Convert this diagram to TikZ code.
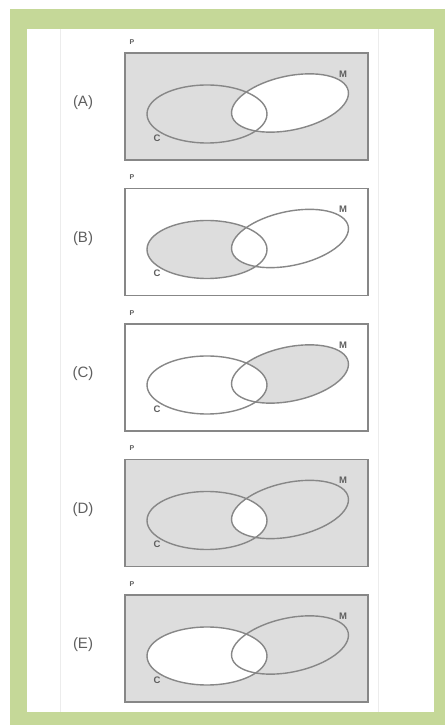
\documentclass[tikz,border=0pt]{standalone}
\usepackage{fontspec}
\setmainfont{Liberation Sans}
\definecolor{framegreen}{RGB}{197,216,152}
\definecolor{boxgray}{RGB}{221,221,221}
\definecolor{linegray}{RGB}{135,135,135}
\definecolor{textgray}{RGB}{95,95,95}
\tikzset{
  outline/.style={draw=linegray,line width=1.4pt},
  lbl/.style={text=textgray,inner sep=0pt,font=\fontsize{15}{15}\selectfont},
  small/.style={text=textgray,inner sep=0pt,font=\fontsize{9.5}{9.5}\selectfont\bfseries},
  tiny/.style={text=textgray,inner sep=0pt,font=\fontsize{7}{7}\selectfont\bfseries}
}
\newcommand{\CellC}{(82,-61) ellipse [x radius=60pt, y radius=29pt]}
\newcommand{\CellM}{[rotate around={12:(165,-50)}] (165,-50) ellipse [x radius=59.5pt, y radius=27pt]}
\newcommand{\BoxP}{(0,0) rectangle (243,-107)}
% #1 = top y, #2 = label, #3 = fill code, #4 = name suffix
\newcommand{\vpanel}[4]{%
  \begin{scope}[shift={(125,#1)}]
    #3
    \draw[outline] \BoxP;
    \draw[outline] \CellC;
    \draw[outline] \CellM;
    \node[tiny] (P#4) at (7,11) {P};
    \node[small] (M#4) at (218,-21) {M};
    \node[small] (C#4) at (32,-85) {C};
    \node[lbl] (L#4) at (-42,-50) {#2};
  \end{scope}}
\begin{document}
\begin{tikzpicture}[x=1pt,y=1pt]
\useasboundingbox (0,0) rectangle (446,726);
\fill[white] (0,0) rectangle (446,726);
\fill[framegreen] (10,1) rectangle (445,717);
\fill[white] (27,14) rectangle (434,697);
\draw[gray!15,line width=0.8pt] (60,14) -- (60,697);
\draw[gray!15,line width=0.8pt] (378,14) -- (378,697);
% (A)
\vpanel{673}{(A)}{%
  \fill[boxgray] \BoxP;
  \fill[white] \CellM;
}{a}
% (B)
\vpanel{537.5}{(B)}{%
  \fill[boxgray] \CellC;
  \fill[white] \CellM;
}{b}
% (C)
\vpanel{402}{(C)}{%
  \fill[boxgray] \CellM;
  \fill[white] \CellC;
}{c}
% (D)
\vpanel{266.5}{(D)}{%
  \fill[boxgray] \BoxP;
  \begin{scope}\clip \CellC; \fill[white] \CellM; \end{scope}
}{d}
% (E)
\vpanel{131}{(E)}{%
  \fill[boxgray] \BoxP;
  \fill[white] \CellC;
}{e}
\end{tikzpicture}
\end{document}
